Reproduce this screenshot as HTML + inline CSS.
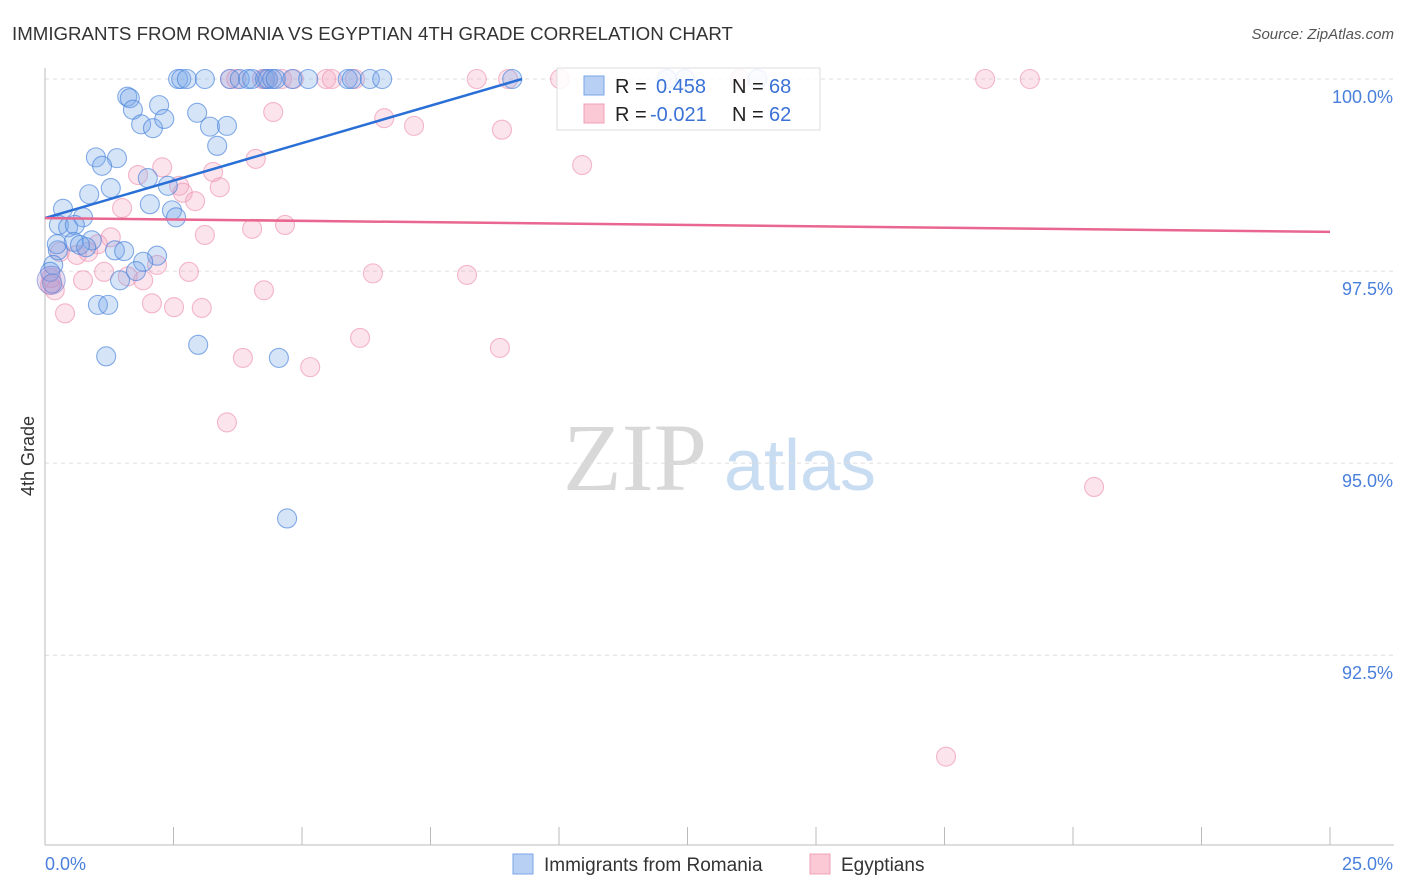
<!DOCTYPE html>
<html><head><meta charset="utf-8">
<style>
body{margin:0;background:#fff;font-family:"Liberation Sans",sans-serif;}
#wrap{position:relative;width:1406px;height:892px;overflow:hidden;}
</style></head>
<body>
<div id="wrap">
<svg id="chart" width="1406" height="892" xmlns="http://www.w3.org/2000/svg">
<text x="12" y="40" font-size="18.7" fill="#333">IMMIGRANTS FROM ROMANIA VS EGYPTIAN 4TH GRADE CORRELATION CHART</text>
<text x="1394" y="39" font-size="15" fill="#555" font-style="italic" text-anchor="end">Source: ZipAtlas.com</text>
<g>
<text x="635" y="490" font-size="96" font-family="Liberation Serif,serif" fill="#d8d8d8" text-anchor="middle">ZIP</text>
<text x="800" y="490" font-size="72" fill="#c8dcf2" text-anchor="middle">atlas</text>
</g>
<g id="grid"></g>
<g id="axes"></g>
<g id="pts"></g>
<g id="trends"></g>
<text transform="translate(34,456) rotate(-90)" font-size="18" fill="#333" text-anchor="middle">4th Grade</text>
<g>
<rect x="557" y="68" width="263" height="62" fill="rgba(255,255,255,0.85)" stroke="#ddd"/>
<rect x="584" y="76" width="20" height="19" fill="#b8d0f4" stroke="#7aa6e8"/>
<rect x="584" y="104" width="20" height="19" fill="#fbc8d6" stroke="#f0a0b8"/>
<text x="615" y="93" font-size="20" fill="#222">R = </text><text x="656" y="93" font-size="20" fill="#3a72d6">0.458</text>
<text x="732" y="93" font-size="20" fill="#222">N = </text><text x="769" y="93" font-size="20" fill="#3a72d6">68</text>
<text x="615" y="121" font-size="20" fill="#222">R = </text><text x="650" y="121" font-size="20" fill="#3a72d6">-0.021</text>
<text x="732" y="121" font-size="20" fill="#222">N = </text><text x="769" y="121" font-size="20" fill="#3a72d6">62</text>
</g>
<g>
<rect x="513" y="854" width="20" height="20" fill="#b8d0f4" stroke="#7aa6e8"/>
<text x="544" y="871" font-size="19" fill="#333">Immigrants from Romania</text>
<rect x="810" y="854" width="20" height="20" fill="#fbc8d6" stroke="#f0a0b8"/>
<text x="841" y="871" font-size="19" fill="#333">Egyptians</text>
</g>
</svg>
</div>
<script>
const yTicks=[92.5,95,97.5,100];
const yTickLabels=["92.5%","95.0%","97.5%","100.0%"];
const xTickLabels=["0.0%","25.0%"];
const blueX=[2.59,2.65,2.76,3.11,3.60,3.79,3.95,4.03,4.28,4.34,4.42,4.49,4.81,5.12,5.89,5.97,6.32,6.56,9.09,12.10,12.45,13.86,
1.60,1.65,1.71,2.22,1.87,2.10,2.32,2.96,3.21,3.54,3.35,0.99,1.40,1.11,1.28,0.86,2.00,2.39,2.04,2.47,2.55,0.35,0.74,0.27,0.45,0.58,0.56,0.91,0.68,0.80,0.25,1.36,1.54,2.18,1.91,1.77,0.16,0.10,0.14,1.46,1.03,1.23,1.19,2.98,4.55,4.71,0.23];
const blueY=[100,100,100,100,100,100,100,100,100,100,100,100,100,100,100,100,100,100,100,100,100,100,
99.77,99.75,99.60,99.66,99.41,99.36,99.48,99.56,99.38,99.39,99.13,98.98,98.97,98.87,98.58,98.50,98.71,98.61,98.37,98.29,98.20,98.31,98.20,98.10,98.07,98.10,97.88,97.90,97.84,97.81,97.77,97.77,97.76,97.70,97.62,97.50,97.58,97.49,97.34,97.38,97.06,97.06,96.39,96.54,96.37,94.28,97.85];
const pinkX=[3.60,3.72,4.22,4.32,4.61,4.84,5.47,5.58,6.03,8.40,9.01,10.02,13.52,18.29,19.16,
4.44,6.60,7.18,8.89,4.10,2.28,10.45,3.27,1.81,2.61,2.68,3.40,2.92,1.50,4.67,4.03,3.11,1.28,1.03,0.84,0.29,0.62,2.18,1.15,2.80,1.61,1.91,0.74,6.38,8.21,4.26,0.10,0.19,2.08,2.51,3.05,0.39,6.13,8.85,3.85,5.16,3.54,20.41,17.53,0.12];
const pinkY=[100,100,100,100,100,100,100,100,100,100,100,100,100,100,100,
99.57,99.49,99.39,99.34,98.96,98.85,98.88,98.79,98.75,98.61,98.52,98.59,98.41,98.32,98.10,98.05,97.97,97.94,97.85,97.75,97.75,97.71,97.58,97.49,97.49,97.43,97.38,97.38,97.47,97.45,97.25,97.32,97.25,97.08,97.03,97.02,96.95,96.63,96.50,96.37,96.25,95.53,94.69,91.18,97.41];
const blueTrend=[0,98.19,9.28,100];
const pinkTrend=[0,98.19,25,98.01];

const NS="http://www.w3.org/2000/svg";
const X0=45,X1=1330,Y0=845,Y1=79,YMIN=90.03,YMAX=100;
function sx(v){return X0+(v/25)*(X1-X0);}
function sy(v){return Y0-(v-YMIN)/(YMAX-YMIN)*(Y0-Y1);}
function mk(tag,attrs,parent){const e=document.createElementNS(NS,tag);for(const k in attrs)e.setAttribute(k,attrs[k]);parent.appendChild(e);return e;}
const grid=document.getElementById('grid'),axes=document.getElementById('axes'),pts=document.getElementById('pts'),tr=document.getElementById('trends');
yTicks.forEach((t,i)=>{
  const l=mk('line',{x1:X0,x2:1394,y1:sy(t),y2:sy(t),stroke:'#ddd','stroke-dasharray':'4,4'},grid);
  
  
  const tx=mk('text',{x:1393,y:sy(t)+24,'font-size':18,fill:'#4a80dc','text-anchor':'end'},axes);
  tx.textContent=yTickLabels[i];
  
  
});
const al=mk('line',{x1:X0,x2:X0,y1:68,y2:Y0,stroke:'#bbb'},axes);


const bl=mk('line',{x1:X0,x2:1394,y1:Y0,y2:Y0,stroke:'#bbb'},axes);


for(let i=0;i<=10;i++){
  const t=mk('line',{x1:sx(i*2.5),x2:sx(i*2.5),y1:Y0,y2:827,stroke:'#bbb'},axes);
  
  
}
[[0,'start',45],[25,'end',1393]].forEach((d,i)=>{
  const t=mk('text',{x:d[2],y:870,'font-size':18,fill:'#4a80dc','text-anchor':d[1]},axes);
  t.textContent=xTickLabels[i];
  
  
});
function drawPts(xs,ys,fill,stroke,name){
  xs.forEach((x,i)=>{
    const c=mk('circle',{cx:sx(x),cy:sy(ys[i]),r:9.5,fill:fill,stroke:stroke,'stroke-width':1.1},pts);
    
    
  });
}
drawPts(pinkX,pinkY,'rgba(246,165,192,0.3)','rgba(236,140,172,0.6)','egyptians-point');
drawPts(blueX,blueY,'rgba(120,165,232,0.3)','rgba(70,130,220,0.65)','romania-point');
const big=mk('circle',{cx:sx(0.12),cy:sy(97.38),r:14,fill:'rgba(170,140,205,0.3)',stroke:'rgba(100,120,210,0.55)'},pts);


const t1=mk('line',{x1:sx(blueTrend[0]),y1:sy(blueTrend[1]),x2:sx(blueTrend[2]),y2:sy(blueTrend[3]),stroke:'#2a6fd6','stroke-width':2.5},tr);


const t2=mk('line',{x1:sx(pinkTrend[0]),y1:sy(pinkTrend[1]),x2:sx(pinkTrend[2]),y2:sy(pinkTrend[3]),stroke:'#e8668f','stroke-width':2.5},tr);


</script>
</body></html>
